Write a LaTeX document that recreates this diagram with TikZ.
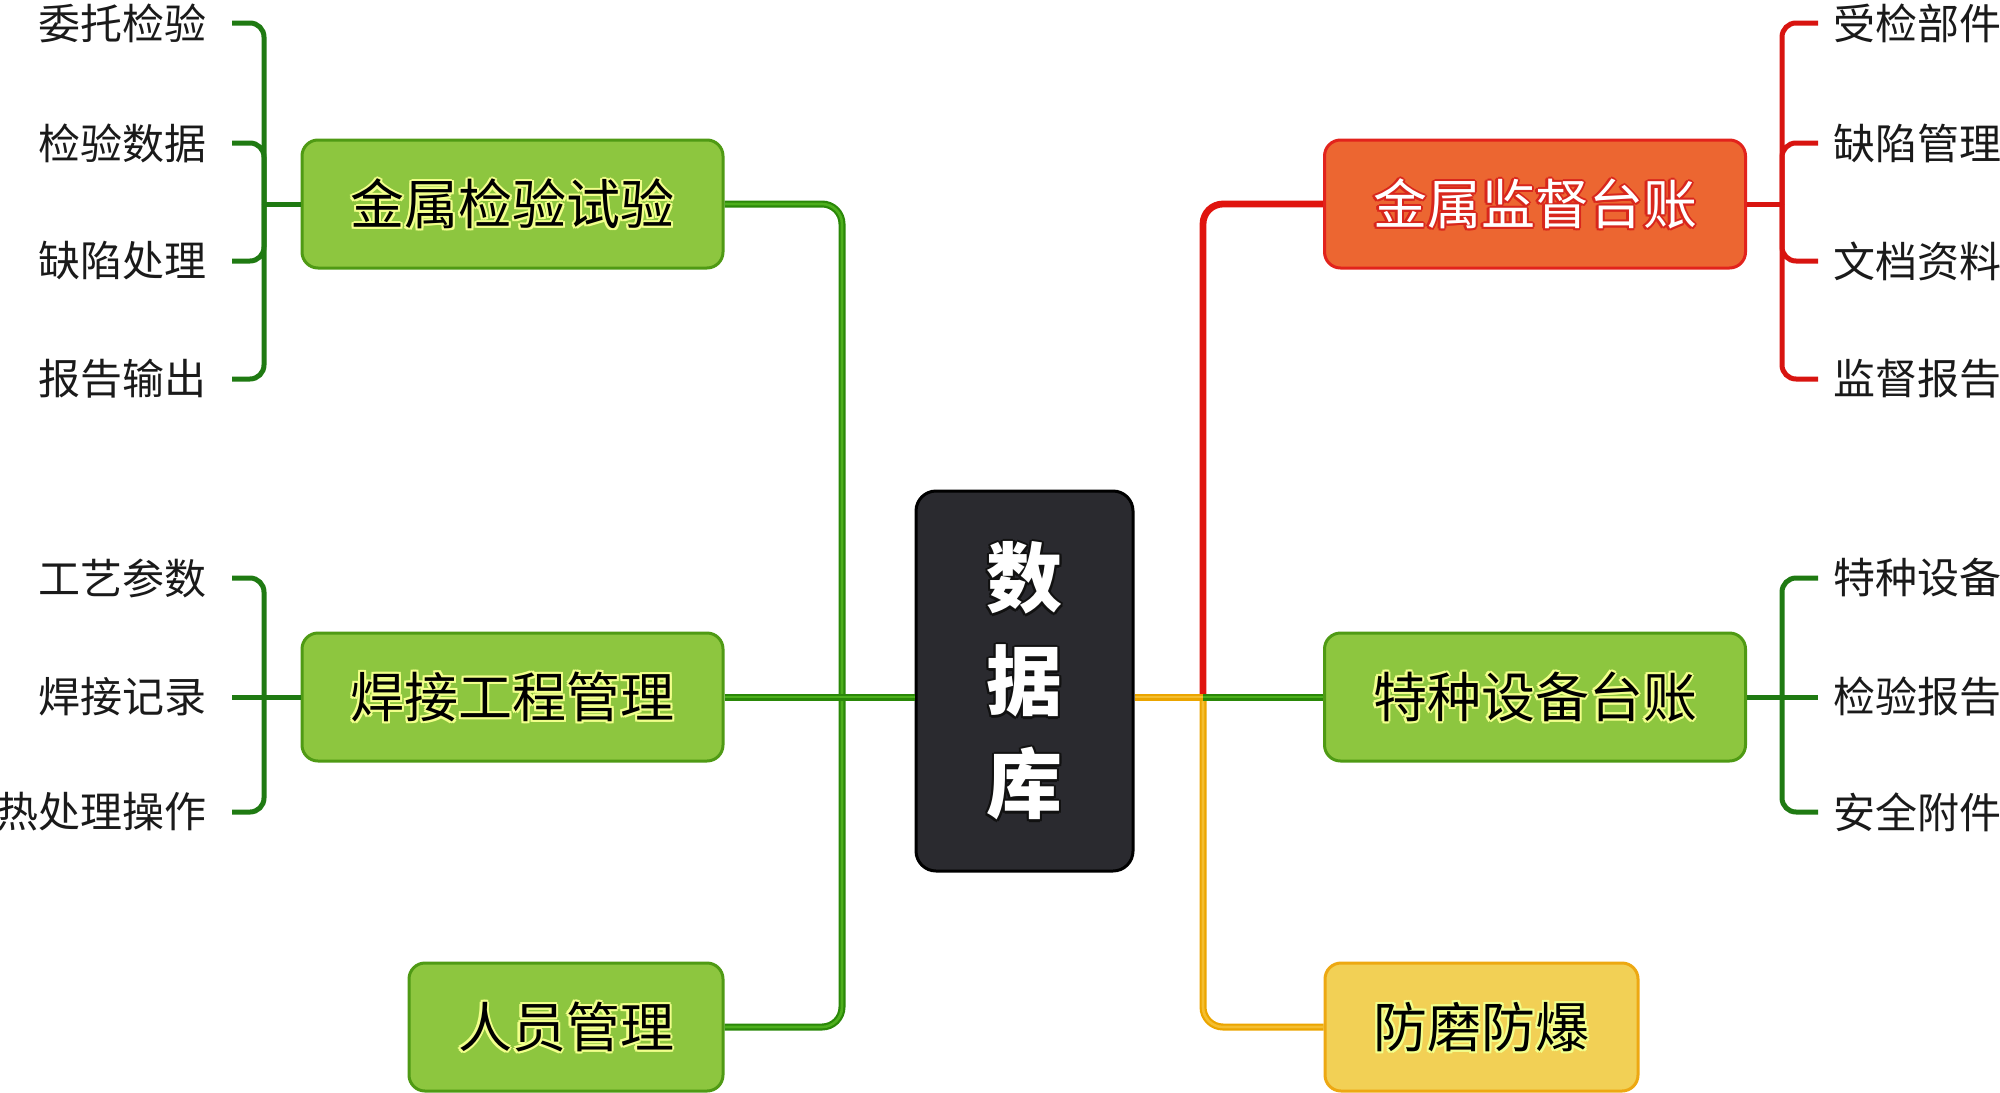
\documentclass[tikz,border=0pt]{standalone}
\usepackage{fontspec}
\setmainfont{Noto Sans CJK SC}
\definecolor{gfill}{HTML}{8DC63F}
\definecolor{gdraw}{HTML}{4F9A14}
\definecolor{rfill}{HTML}{EC6631}
\definecolor{rdraw}{HTML}{E2231C}
\definecolor{yfill}{HTML}{F2D055}
\definecolor{ydraw}{HTML}{EDA812}
\definecolor{dbfill}{HTML}{2A2A2F}
\definecolor{trunkg}{HTML}{2A8808}
\definecolor{trunkgl}{HTML}{4DAF1C}
\definecolor{leafgc}{HTML}{1F7A12}
\definecolor{leafrc}{HTML}{D81410}
\definecolor{trunkr}{HTML}{E0140E}
\definecolor{trunky}{HTML}{EBA500}
\definecolor{trunkyl}{HTML}{F4BE30}
\definecolor{glowy}{HTML}{F2FF8C}
\definecolor{glowr}{HTML}{D8261C}
\definecolor{glowk}{HTML}{111111}
\definecolor{leaftext}{HTML}{1A1A1A}
\newcommand\glowtxt[3]{\leavevmode\raisebox{2.5pt}{\rlap{\textcolor{#1}{%
\rlap{\kern1.1pt #3}\rlap{\kern-1.1pt #3}\rlap{\raisebox{1.1pt}{#3}}\rlap{\raisebox{-1.1pt}{#3}}%
\rlap{\kern.8pt\raisebox{.8pt}{#3}}\rlap{\kern-.8pt\raisebox{.8pt}{#3}}%
\rlap{\kern.8pt\raisebox{-.8pt}{#3}}\rlap{\kern-.8pt\raisebox{-.8pt}{#3}}}}\textcolor{#2}{#3}}}
\begin{document}
\begin{tikzpicture}[x=0.5pt,y=-0.5pt,
  boxbase/.style={rectangle, rounded corners=8pt, line width=1.5pt, minimum height=64pt,
    minimum width=210.5pt, inner sep=0pt, font=\fontsize{27}{30}\selectfont},
  gbox/.style={boxbase, fill=gfill, draw=gdraw},
  rbox/.style={boxbase, fill=rfill, draw=rdraw},
  ybox/.style={boxbase, fill=yfill, draw=ydraw},
  dbbox/.style={rectangle, rounded corners=10pt, line width=1.5pt, fill=dbfill, draw=black,
    minimum width=108.5pt, minimum height=190pt, align=center, text=white,
    font=\fontsize{38}{51.5}\selectfont\bfseries},
  leafL/.style={anchor=east, inner xsep=12.5pt, inner ysep=0pt, text=leaftext,
    font=\fontsize{21}{24}\selectfont},
  leafR/.style={anchor=west, inner xsep=7.5pt, inner ysep=0pt, text=leaftext,
    font=\fontsize{21}{24}\selectfont},
  gtrunk/.style={draw=trunkg, double=trunkgl, line width=1.1pt, double distance=1.3pt, rounded corners=10pt},
  ytrunk/.style={draw=trunky, double=trunkyl, line width=1.1pt, double distance=1.3pt, rounded corners=10pt},
  rtrunk/.style={draw=trunkr, line width=3.4pt, rounded corners=10pt},
  leafg/.style={draw=leafgc, line width=2.5pt, rounded corners=7pt},
  leafr/.style={draw=leafrc, line width=2.5pt, rounded corners=7pt}]
\useasboundingbox (0,0) rectangle (2000,1092);

% main boxes
\node[gbox] (m1) at (512.5,204) {\glowtxt{glowy}{black}{金属检验试验}};
\node[gbox] (m2) at (512.5,697) {\glowtxt{glowy}{black}{焊接工程管理}};
\node[gbox, minimum width=157pt] (m3) at (566,1027) {\glowtxt{glowy}{black}{人员管理}};
\node[rbox] (r1) at (1535,204) {\glowtxt{glowr}{white}{金属监督台账}};
\node[gbox] (r2) at (1535,697) {\glowtxt{glowy}{black}{特种设备台账}};
\node[ybox, minimum width=156.5pt] (r3) at (1481.5,1027) {\glowtxt{glowy}{black}{防磨防爆}};
\node[dbbox] (db) at (1024.5,681) {\glowtxt{glowk}{white}{数}\\\glowtxt{glowk}{white}{据}\\\glowtxt{glowk}{white}{库}};

% junctions
\coordinate (jl) at (842,697);
\coordinate (jr) at (1203,697);

% left trunk
\draw[gtrunk] (m1.east) -| (jl |- m3.east) -- (m3.east);
\draw[gtrunk] (m2.east) -- (db.west |- m2.east);
% right trunk
\draw[rtrunk] (jr) |- (r1.west);
\draw[ytrunk] (jr) |- (r3.west);
\draw[ytrunk] (db.east |- r2.west) -- (jr);
\draw[gtrunk] (jr) -- (r2.west);

% leaves of m1
\node[leafL] (a1) at (232,23) {委托检验};
\node[leafL] (a2) at (232,143) {检验数据};
\node[leafL] (a3) at (232,261) {缺陷处理};
\node[leafL] (a4) at (232,379) {报告输出};
\coordinate (ba) at (264,204);
\draw[leafg] (m1.west) -- (ba);
\foreach \n in {a1,a2,a3,a4} \draw[leafg] (ba) |- (\n.east);

% leaves of m2
\node[leafL] (b1) at (232,578) {工艺参数};
\node[leafL] (b2) at (232,697) {焊接记录};
\node[leafL] (b3) at (232,812) {热处理操作};
\coordinate (bb) at (264,697);
\draw[leafg] (m2.west) -- (b2.east);
\foreach \n in {b1,b3} \draw[leafg] (bb) |- (\n.east);

% leaves of r1
\node[leafR] (c1) at (1818,23) {受检部件};
\node[leafR] (c2) at (1818,143) {缺陷管理};
\node[leafR] (c3) at (1818,261) {文档资料};
\node[leafR] (c4) at (1818,379) {监督报告};
\coordinate (bc) at (1782,204);
\draw[leafr] (r1.east) -- (bc);
\foreach \n in {c1,c2,c3,c4} \draw[leafr] (bc) |- (\n.west);

% leaves of r2
\node[leafR] (d1) at (1818,578) {特种设备};
\node[leafR] (d2) at (1818,697) {检验报告};
\node[leafR] (d3) at (1818,812) {安全附件};
\coordinate (bd) at (1782,697);
\draw[leafg] (r2.east) -- (d2.west);
\foreach \n in {d1,d3} \draw[leafg] (bd) |- (\n.west);
\end{tikzpicture}
\end{document}
